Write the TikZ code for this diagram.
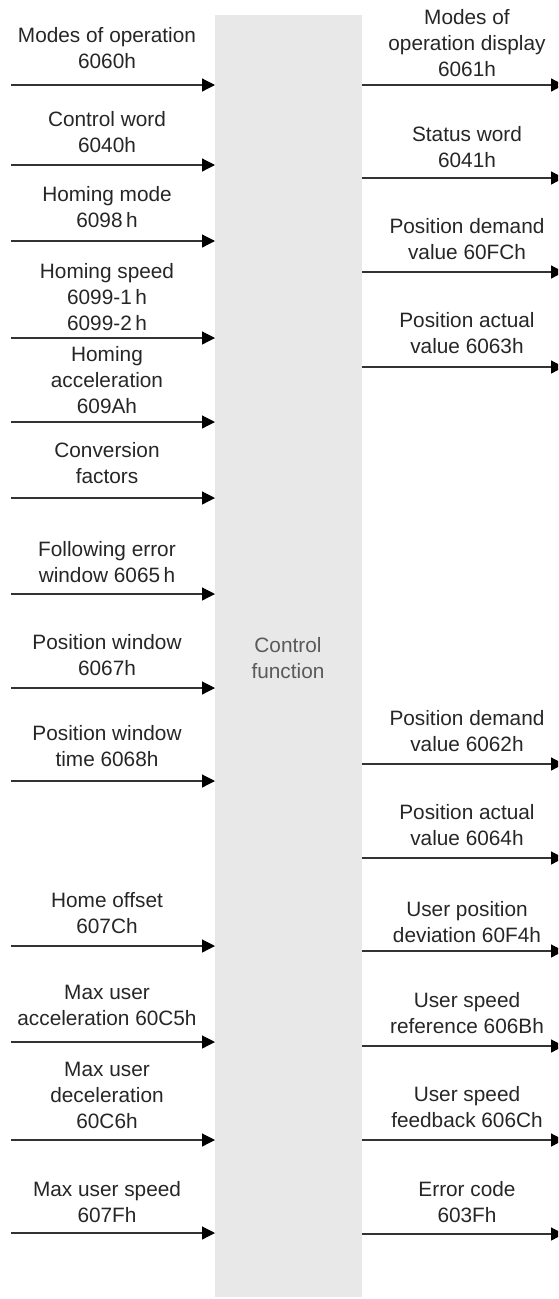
\documentclass[tikz,border=0pt]{standalone}
\usepackage{fontspec}
\setmainfont{Liberation Sans}
\usetikzlibrary{arrows.meta}
\definecolor{labeltext}{HTML}{262626}
\definecolor{linegray}{HTML}{333333}
\definecolor{panelfill}{HTML}{E8E8E8}
\definecolor{paneltext}{HTML}{5A5A5A}
\begin{document}
\begin{tikzpicture}[x=1pt,y=-1pt,
  lbl/.style={align=center, anchor=base, text=labeltext, inner sep=0pt,
              font=\fontsize{20.8}{26}\selectfont},
  sig/.style={draw=linegray, line width=1.2pt,
              -{Triangle[length=13pt,width=13pt,color=black]}},
]
\useasboundingbox (0,0) rectangle (558,1299);
\clip (0,0) rectangle (558,1299);

% central processing column
\node[fill=panelfill, minimum width=147pt, minimum height=1282pt, inner sep=0pt,
      anchor=north west] (ctrl) at (215,15) {};
\node[lbl, text=paneltext] (ctrltxt) at (288,678) {Control\\function};

% inputs: name / label / baseline of last line / arrow height
\foreach \n/\txt/\by/\ay in {
  a/{Modes of operation\\6060h}/68/85,
  b/{Control word\\6040h}/152/165,
  c/{Homing mode\\6098\,h}/227/241,
  d/{Homing speed\\6099-1\,h\\6099-2\,h}/330/338,
  e/{Homing\\acceleration\\609Ah}/413/422,
  f/{Conversion\\factors}/483/498,
  g/{Following error\\window 6065\,h}/582/594,
  h/{Position window\\6067h}/675/688,
  i/{Position window\\time 6068h}/766/781,
  j/{Home offset\\607Ch}/933/946,
  k/{Max user\\acceleration 60C5h}/1025/1042,
  l/{Max user\\deceleration\\60C6h}/1128/1140,
  m/{Max user speed\\607Fh}/1222/1233} {
  \node[lbl] (in-\n) at (107,\by) {\txt};
  \coordinate (src-\n) at (11,\ay);
  \draw[sig] (src-\n) -- (src-\n -| ctrl.west);
}

% outputs: name / label / baseline of last line / arrow height
\foreach \n/\txt/\by/\ay in {
  a/{Modes of\\operation display\\6061h}/76/85,
  b/{Status word\\6041h}/167/178,
  c/{Position demand\\value 60FCh}/259/272,
  d/{Position actual\\value 6063h}/353/367,
  e/{Position demand\\value 6062h}/751/764,
  f/{Position actual\\value 6064h}/845/858,
  g/{User position\\deviation 60F4h}/942/951,
  h/{User speed\\reference 606Bh}/1033/1046,
  i/{User speed\\feedback 606Ch}/1127/1140,
  j/{Error code\\603Fh}/1222/1234} {
  \node[lbl] (out-\n) at (467,\by) {\txt};
  \coordinate (dst-\n) at (564,\ay);
  \draw[sig] (dst-\n -| ctrl.east) -- (dst-\n);
}
\end{tikzpicture}
\end{document}
